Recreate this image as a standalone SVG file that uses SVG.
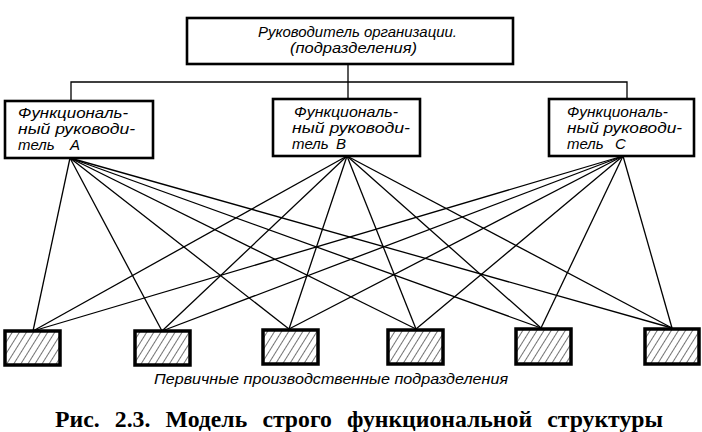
<svg xmlns="http://www.w3.org/2000/svg" width="702" height="432" viewBox="0 0 702 432">
<style>
.box{fill:#fff;stroke:#000;stroke-width:2.6}
.unit{fill:url(#hatch);stroke:#000;stroke-width:3.5}
.lbl{font-family:"Liberation Sans",Arial,sans-serif;font-style:italic;font-size:15px;fill:#000}
.cap{font-family:"Liberation Serif","Times New Roman",serif;font-weight:bold;font-size:23px;fill:#000;word-spacing:9px}
.conn line,.conn polyline{stroke:#000;stroke-width:1.3;fill:none}
</style>
<defs>
<pattern id="hatch" patternUnits="userSpaceOnUse" width="6" height="6" patternTransform="rotate(32)">
<rect width="6" height="6" fill="#fff"/>
<line x1="0" y1="0" x2="0" y2="6" stroke="#000" stroke-width="1.1"/>
</pattern>
</defs>
<g id="connectors" class="conn">
<line x1="348" y1="65" x2="348" y2="82"/>
<polyline points="71,101 71,82 627,82 627,99"/>
<line x1="348" y1="82" x2="348" y2="98"/>
<line x1="70" y1="158" x2="33" y2="331"/>
<line x1="70" y1="158" x2="162" y2="331"/>
<line x1="70" y1="158" x2="289" y2="329"/>
<line x1="70" y1="158" x2="416" y2="329"/>
<line x1="70" y1="158" x2="541" y2="328"/>
<line x1="70" y1="158" x2="672" y2="328"/>
<line x1="347" y1="156" x2="33" y2="331"/>
<line x1="347" y1="156" x2="162" y2="331"/>
<line x1="347" y1="156" x2="289" y2="329"/>
<line x1="347" y1="156" x2="416" y2="329"/>
<line x1="347" y1="156" x2="541" y2="328"/>
<line x1="347" y1="156" x2="672" y2="328"/>
<line x1="623" y1="156" x2="33" y2="331"/>
<line x1="623" y1="156" x2="162" y2="331"/>
<line x1="623" y1="156" x2="289" y2="329"/>
<line x1="623" y1="156" x2="416" y2="329"/>
<line x1="623" y1="156" x2="541" y2="328"/>
<line x1="623" y1="156" x2="672" y2="328"/>
</g>
<g id="head">
<rect class="box" x="187" y="18" width="326" height="46"/>
<text class="lbl" x="258" y="37" textLength="199" lengthAdjust="spacingAndGlyphs">Руководитель организации.</text>
<text class="lbl" x="290" y="53" textLength="127" lengthAdjust="spacingAndGlyphs">(подразделения)</text>
</g>
<g id="mgrA">
<rect class="box" x="5" y="101" width="148" height="57"/>
<text class="lbl" x="18" y="118" textLength="110" lengthAdjust="spacingAndGlyphs">Функциональ-</text>
<text class="lbl" x="18" y="134" textLength="117" lengthAdjust="spacingAndGlyphs">ный руководи-</text>
<text class="lbl" y="150"><tspan x="18">тель</tspan><tspan x="70">A</tspan></text>
</g>
<g id="mgrB">
<rect class="box" x="273" y="99" width="147" height="57"/>
<text class="lbl" x="294" y="117" textLength="104" lengthAdjust="spacingAndGlyphs">Функциональ-</text>
<text class="lbl" x="292" y="133" textLength="118" lengthAdjust="spacingAndGlyphs">ный руководи-</text>
<text class="lbl" y="149"><tspan x="292">тель</tspan><tspan x="336">B</tspan></text>
</g>
<g id="mgrC">
<rect class="box" x="549" y="99" width="145" height="57"/>
<text class="lbl" x="567" y="117" textLength="101" lengthAdjust="spacingAndGlyphs">Функциональ-</text>
<text class="lbl" x="567" y="133" textLength="115" lengthAdjust="spacingAndGlyphs">ный руководи-</text>
<text class="lbl" y="149"><tspan x="567">тель</tspan><tspan x="615">C</tspan></text>
</g>
<g id="unit1"><rect class="unit" x="5" y="331" width="55" height="34"/></g>
<g id="unit2"><rect class="unit" x="135" y="331" width="55" height="34"/></g>
<g id="unit3"><rect class="unit" x="263" y="330" width="55" height="34"/></g>
<g id="unit4"><rect class="unit" x="388" y="330" width="55" height="34"/></g>
<g id="unit5"><rect class="unit" x="516" y="329" width="55" height="35"/></g>
<g id="unit6"><rect class="unit" x="645" y="329" width="54" height="35"/></g>
<text class="lbl" x="154" y="384" textLength="354" lengthAdjust="spacingAndGlyphs">Первичные производственные подразделения</text>
<text class="cap" x="55" y="427" textLength="608" lengthAdjust="spacingAndGlyphs">Рис. 2.3. Модель строго функциональной структуры</text>
</svg>
